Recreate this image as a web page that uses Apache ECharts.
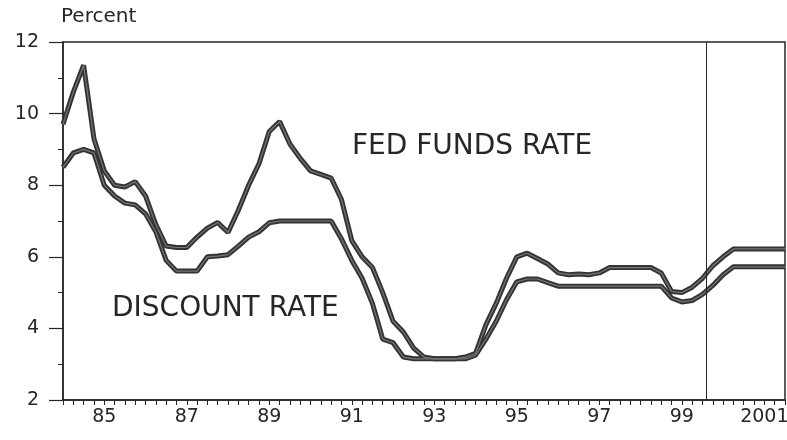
<!DOCTYPE html>
<html>
<head>
<meta charset="utf-8">
<script src="https://cdn.jsdelivr.net/npm/echarts@6/dist/echarts.min.js"></script>
<style>html,body{margin:0;padding:0;background:#fff}#c{width:787px;height:440px}</style>
</head>
<body>
<div id="c"></div>
<script>
// Quarterly time points 1984Q1 .. 2001Q3
const quarters = [];
for (let y = 1984; y <= 2001; y++) for (let q = 0; q < 4; q++) { const t = y + q / 4; if (t <= 2001.5) quarters.push(t); }

const fedFunds = [
  9.7, 10.6, 11.35, 9.3,
  8.4, 8.0, 7.95, 8.1,
  7.7, 6.9, 6.3, 6.26,
  6.26, 6.55, 6.8, 6.96,
  6.68, 7.3, 8.0, 8.6,
  9.5, 9.78, 9.15, 8.75,
  8.4, 8.3, 8.2, 7.6,
  6.45, 6.0, 5.7, 5.0,
  4.2, 3.9, 3.45, 3.2,
  3.15, 3.15, 3.15, 3.2,
  3.3, 4.1, 4.7, 5.4,
  6.0, 6.1, 5.95, 5.8,
  5.55, 5.5, 5.52, 5.5,
  5.55, 5.7, 5.7, 5.7,
  5.7, 5.7, 5.55, 5.03,
  5.0, 5.15, 5.4, 5.75,
  6.0, 6.22, 6.22, 6.22,
  6.22, 6.22, 6.22
];
const discountRate = [
  8.5, 8.9, 9.0, 8.9,
  8.0, 7.7, 7.5, 7.45,
  7.2, 6.7, 5.9, 5.6,
  5.6, 5.6, 6.0, 6.02,
  6.06, 6.3, 6.55, 6.7,
  6.95, 7.0, 7.0, 7.0,
  7.0, 7.0, 7.0, 6.5,
  5.9, 5.4, 4.7, 3.7,
  3.6, 3.2, 3.15, 3.15,
  3.15, 3.15, 3.15, 3.15,
  3.25, 3.7, 4.2, 4.8,
  5.3, 5.38, 5.38, 5.28,
  5.18, 5.18, 5.18, 5.18,
  5.18, 5.18, 5.18, 5.18,
  5.18, 5.18, 5.18, 4.85,
  4.74, 4.78, 4.95, 5.2,
  5.5, 5.72, 5.72, 5.72,
  5.72, 5.72, 5.72
];
const xLabelYears = [1985, 1987, 1989, 1991, 1993, 1995, 1997, 1999, 2001];
const xLabelTexts = ['85', '87', '89', '91', '93', '95', '97', '99', '2001'];
const yTicks = [2, 4, 6, 8, 10, 12];
const forecastStart = 1999.6;

const ffData = quarters.map((t, i) => [t, fedFunds[i]]);
const drData = quarters.map((t, i) => [t, discountRate[i]]);

const FONT = 'DejaVu Sans';
const INK = '#262626';

const chart = echarts.init(document.getElementById('c'), null, { renderer: 'canvas' });
chart.setOption({
  backgroundColor: '#ffffff',
  animation: false,
  grid: { left: 63, right: 2, top: 42, bottom: 40, containLabel: false, outerBoundsMode: 'none',
    show: true, borderColor: INK, borderWidth: 1.5, backgroundColor: 'transparent' },
  xAxis: {
    type: 'value', min: 1984, max: 2001.5, interval: 0.25,
    axisLine: { show: true, onZero: false, lineStyle: { color: INK, width: 1.5 } },
    axisTick: { show: true, inside: false, length: 5, lineStyle: { color: INK, width: 1 } },
    splitLine: { show: false },
    axisLabel: {
      margin: 8, color: INK, fontFamily: FONT, fontSize: 19,
      showMinLabel: true, showMaxLabel: true,
      formatter: v => { const k = xLabelYears.findIndex(y => Math.abs(y - v) < 1e-6); return k >= 0 ? xLabelTexts[k] : ''; }
    }
  },
  yAxis: {
    type: 'value', min: yTicks[0], max: yTicks[yTicks.length - 1], interval: 2,
    axisLine: { show: true, onZero: false, lineStyle: { color: INK, width: 1.5 } },
    axisTick: { show: true, inside: false, length: 14, lineStyle: { color: INK, width: 1.2 } },
    minorTick: { show: true, splitNumber: 2, length: 5, lineStyle: { color: INK, width: 1 } },
    splitLine: { show: false },
    axisLabel: { margin: 24, color: INK, fontFamily: FONT, fontSize: 19 }
  },
  series: [
    { name: 'FED FUNDS RATE', type: 'line', data: ffData, symbol: 'none', smooth: false,
      lineStyle: { color: '#333333', width: 5 }, z: 2,
      markLine: { silent: true, symbol: 'none', label: { show: false },
        lineStyle: { color: INK, width: 1, type: 'solid' }, data: [{ xAxis: forecastStart }] } },
    { name: 'FED FUNDS RATE core', type: 'line', data: ffData, symbol: 'none',
      lineStyle: { color: '#777777', width: 1.2 }, z: 3 },
    { name: 'DISCOUNT RATE', type: 'line', data: drData, symbol: 'none',
      lineStyle: { color: '#333333', width: 5 }, z: 2 },
    { name: 'DISCOUNT RATE core', type: 'line', data: drData, symbol: 'none',
      lineStyle: { color: '#777777', width: 1.2 }, z: 3 }
  ],
  graphic: [
    { type: 'text', left: 61, top: 7, style: { text: 'Percent', fill: INK, font: '20px "DejaVu Sans"' } },
    { type: 'text', x: 352, y: 147, style: { text: 'FED FUNDS RATE', fill: INK, font: '28px "DejaVu Sans"', textVerticalAlign: 'middle', verticalAlign: 'middle' } },
    { type: 'text', x: 112, y: 309, style: { text: 'DISCOUNT RATE', fill: INK, font: '28px "DejaVu Sans"', textVerticalAlign: 'middle', verticalAlign: 'middle' } }
  ]
});
</script>
</body>
</html>
